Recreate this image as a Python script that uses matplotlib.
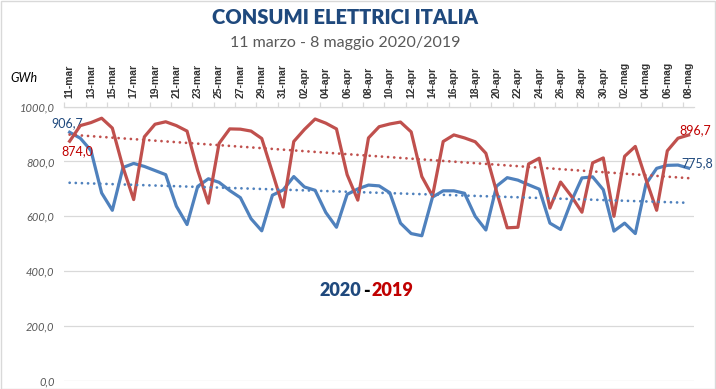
#!/usr/bin/env python3
"""
Consumi elettrici Italia, 11 marzo - 8 maggio, 2020 vs 2019.

Daily consumption in GWh for the two years, each with a dotted linear
trendline, in the style of the original spreadsheet chart.
"""

import numpy as np

import matplotlib

matplotlib.use("Agg")  # headless
import matplotlib.pyplot as plt  # noqa: E402
from matplotlib.patches import Rectangle  # noqa: E402

# --------------------------------------------------------------------------- #
# Data (GWh per day, 11-mar .. 08-mag)
# --------------------------------------------------------------------------- #
GWH_2020 = [
    906.7, 885, 840, 685, 622, 778, 793, 782, 767, 752,
    637, 570, 709, 737, 724, 694, 668, 591, 547, 677,
    696, 745, 707, 695, 614, 560, 680, 700, 714, 711,
    686, 575, 537, 529, 670, 693, 693, 684, 600, 550,
    710, 741, 732, 715, 699, 575, 552, 654, 740, 744,
    697, 546, 575, 537, 718, 775, 786, 787, 775.8,
]
GWH_2019 = [
    874.0, 931, 942, 958, 922, 779, 661, 890, 936, 945,
    931, 911, 767, 648, 866, 919, 918, 911, 884, 760,
    634, 873, 917, 955, 940, 919, 752, 659, 886, 927,
    937, 944, 908, 745, 674, 873, 897, 886, 872, 830,
    690, 558, 560, 791, 812, 630, 725, 674, 615, 795,
    813, 600, 819, 855, 735, 622, 839, 885, 896.7,
]
TICK_LABELS = [
    "11-mar", "13-mar", "15-mar", "17-mar", "19-mar", "21-mar", "23-mar",
    "25-mar", "27-mar", "29-mar", "31-mar",
    "02-apr", "04-apr", "06-apr", "08-apr", "10-apr", "12-apr", "14-apr",
    "16-apr", "18-apr", "20-apr", "22-apr", "24-apr", "26-apr", "28-apr",
    "30-apr",
    "02-mag", "04-mag", "06-mag", "08-mag",
]
Y_TICKS = [0, 200, 400, 600, 800, 1000]

BLUE = "#4F81BD"
RED = "#C0504D"
NAVY = "#1F497D"
DARK_RED = "#C00000"
GRID = "#D9D9D9"
GREY_TXT = "#595959"

W, H = 716, 389


def fx(px: float) -> float:
    return px / W


def fy(py: float) -> float:
    return 1 - py / H


def fmt(v: float) -> str:
    return f"{v:.1f}".replace(".", ",")


def trend(values):
    x = np.arange(len(values))
    k, b = np.polyfit(x, values, 1)
    return x, k * x + b


def main() -> None:
    fig = plt.figure(figsize=(W / 100, H / 100), dpi=100)
    ax = fig.add_axes([fx(64.3), fy(380.7), fx(694) - fx(64.3), fy(106.7) - fy(380.7)])

    x = np.arange(len(GWH_2020))
    ax.plot(x, GWH_2020, color=BLUE, lw=2.3, solid_joinstyle="round", zorder=3)
    ax.plot(x, GWH_2019, color=RED, lw=2.3, solid_joinstyle="round", zorder=4)

    for vals, col in ((GWH_2020, BLUE), (GWH_2019, RED)):
        tx, ty = trend(vals)
        ax.plot(tx, ty, color=col, lw=2.0, linestyle=(0, (0.01, 2.2)),
                dash_capstyle="round", zorder=5)

    # data labels at the first and last day
    lab = dict(fontsize=9, family="Lato", annotation_clip=False, va="center", ha="center")
    ax.annotate(fmt(GWH_2020[0]), (x[0], GWH_2020[0]), xytext=(-1.5, 6.5),
                textcoords="offset points", color=NAVY, **lab)
    ax.annotate(fmt(GWH_2019[0]), (x[0], GWH_2019[0]), xytext=(5.5, -7),
                textcoords="offset points", color=DARK_RED, **lab)
    ax.annotate(fmt(GWH_2019[-1]), (x[-1], GWH_2019[-1]), xytext=(5, 3.8),
                textcoords="offset points", color=DARK_RED, **lab)
    ax.annotate(fmt(GWH_2020[-1]), (x[-1], GWH_2020[-1]), xytext=(6, 3.8),
                textcoords="offset points", color=NAVY, **lab)

    ax.set_xlim(-0.5, len(x) - 0.5)
    ax.set_ylim(0, 1000)

    ax.set_yticks(Y_TICKS)
    ax.set_yticklabels([fmt(v) for v in Y_TICKS], fontsize=8, style="italic",
                       family="Lato", color=GREY_TXT)
    ax.tick_params(axis="y", length=0, pad=7)
    ax.grid(axis="y", color=GRID, lw=0.9)
    ax.set_axisbelow(True)

    ax.xaxis.tick_top()
    ax.set_xticks(x[::2])
    ax.set_xticklabels(TICK_LABELS, rotation=90, fontsize=7.5, fontweight="bold",
                       family="Liberation Sans", color="#333333")
    ax.set_xticks(np.arange(-0.5, len(x) - 1, 2), minor=True)
    ax.tick_params(axis="x", which="major", length=0, pad=6)
    ax.tick_params(axis="x", which="minor", length=3.5, color=GRID, width=0.9, top=True)

    for side in ("left", "right", "bottom"):
        ax.spines[side].set_visible(False)
    ax.spines["top"].set_color(GRID)
    ax.spines["top"].set_linewidth(0.9)

    # titles and notes
    fig.text(fx(345), fy(18), "CONSUMI ELETTRICI ITALIA", ha="center", va="center",
             fontsize=14.5, fontweight="heavy", family="Lato", color=NAVY)
    fig.text(fx(345), fy(43), "11 marzo - 8 maggio 2020/2019", ha="center", va="center",
             fontsize=11.5, family="Lato", color=GREY_TXT)
    fig.text(fx(24), fy(78), "GWh", ha="center", va="center", fontsize=9,
             style="italic", family="Lato", color="black")

    y_leg = fy(291)
    leg = dict(va="center", fontsize=13, fontweight="heavy", family="Lato")
    fig.text(fx(361), y_leg, "2020", ha="right", color=NAVY, **leg)
    fig.text(fx(366), y_leg, "-", ha="center", color="black", **leg)
    fig.text(fx(371), y_leg, "2019", ha="left", color=DARK_RED, **leg)

    fig.patches.append(Rectangle((0.5 / W, 0.5 / H), 1 - 1.5 / W, 1 - 1.5 / H,
                                 transform=fig.transFigure, fill=False,
                                 edgecolor=GRID, lw=1))

    fig.savefig("out.png", dpi=100)
    plt.close(fig)


if __name__ == "__main__":
    main()
